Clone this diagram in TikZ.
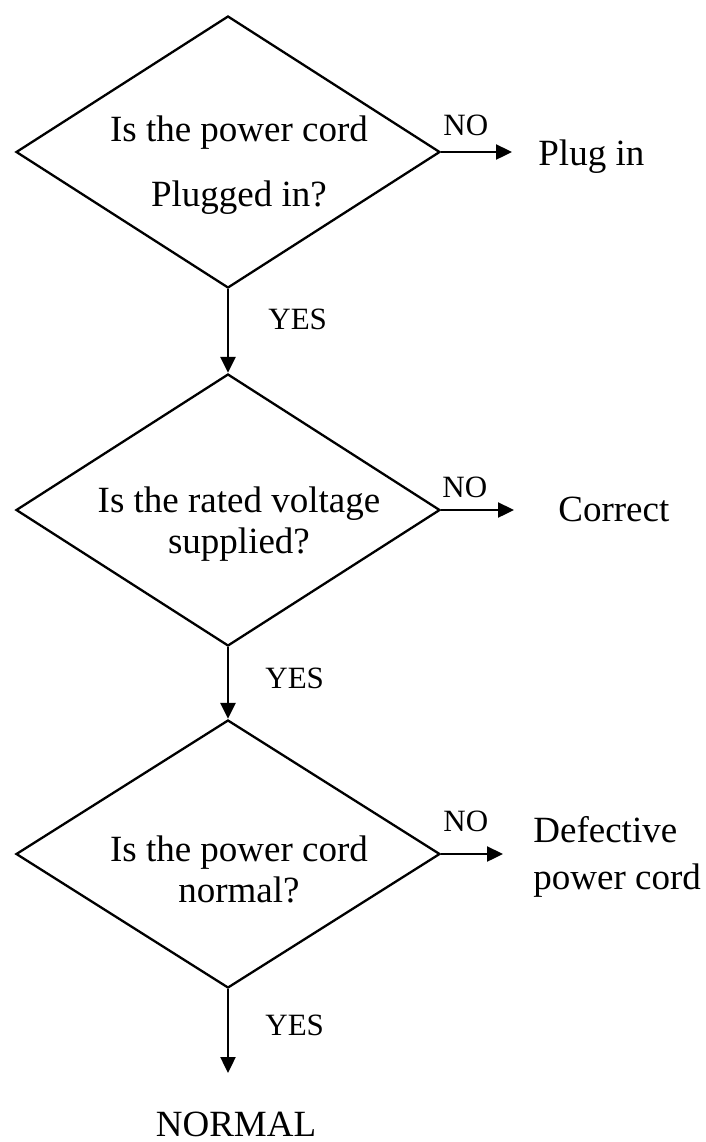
\documentclass[tikz,border=0pt]{standalone}
\usepackage{fontspec}
\setmainfont{Liberation Serif}
\usetikzlibrary{shapes.geometric,arrows.meta}

\begin{document}
\begin{tikzpicture}[x=0.5pt, y=-0.5pt,
  decision/.style={draw, diamond, minimum width=212pt, minimum height=136pt, inner sep=0pt, line width=1.15pt},
  ask/.style={align=center, font=\fontsize{18.5}{20.5}\selectfont},
  answer/.style={inner sep=0pt, anchor=base west, font=\fontsize{18.5}{23.5}\selectfont},
  tag/.style={inner sep=0pt, anchor=base west, font=\fontsize{15.5}{18}\selectfont},
  flow/.style={-{Triangle[length=8pt,width=7.5pt]}, line width=1.2pt}]
\useasboundingbox (0,0) rectangle (706,1142);

\node[decision] (d1) at (228,152) {};
\node[ask, font=\fontsize{18.5}{32.5}\selectfont] (q1) at (239,165) {Is the power cord\\Plugged in?};
\node[decision] (d2) at (228,510) {};
\node[ask] (q2) at (239,524) {Is the rated voltage\\supplied?};
\node[decision, minimum height=134pt] (d3) at (228,854) {};
\node[ask] (q3) at (239,869) {Is the power cord\\normal?};

\node[answer] (plug) at (538,165) {Plug in};
\node[answer] (fix) at (558,521) {Correct};
\node[answer, anchor=north west, align=left] (cord) at (533,816) {Defective\\power cord};
\node[answer, anchor=base] (normal) at (236,1136) {NORMAL};

\node[tag] (no1) at (443,135) {NO};
\node[tag] (no2) at (442,497) {NO};
\node[tag] (no3) at (443,831) {NO};
\node[tag] (yes1) at (268,329) {YES};
\node[tag] (yes2) at (265,688) {YES};
\node[tag] (yes3) at (265,1035) {YES};

\coordinate (e1) at (512,152);
\coordinate (e2) at (514,510);
\coordinate (e3) at (503,854);
\coordinate (e4) at (228,1073);

\draw[flow] (d1.east) -- (e1);
\draw[flow] (d2.east) -- (e2);
\draw[flow] (d3.east) -- (e3);
\draw[flow] (d1.south) -- (d2.north);
\draw[flow] (d2.south) -- (d3.north);
\draw[flow] (d3.south) -- (e4);
\end{tikzpicture}
\end{document}
